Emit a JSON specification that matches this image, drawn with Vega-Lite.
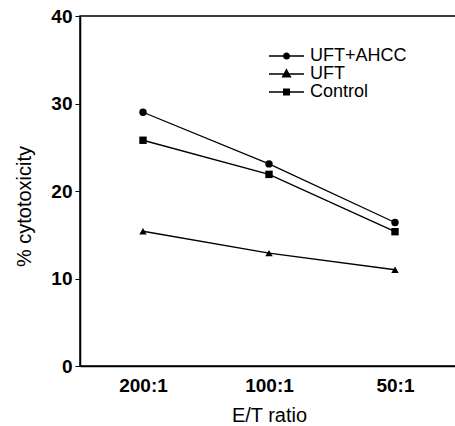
{
  "$schema": "https://vega.github.io/schema/vega-lite/v6.json",
  "width": 378,
  "height": 350,
  "autosize": "none",
  "padding": {"left": 80, "top": 16, "right": 0, "bottom": 60},
  "background": "white",
  "config": {
    "font": "Liberation Sans",
    "view": {"stroke": "black", "strokeWidth": 1.5},
    "axis": {"domainColor": "black", "domainWidth": 1.5, "tickColor": "black", "labelColor": "black", "titleColor": "black", "grid": false, "labelFont": "Liberation Sans", "titleFont": "Liberation Sans"}
  },
  "data": {
    "values": [
      {"ratio": "200:1", "series": "UFT+AHCC", "value": 29.0},
      {"ratio": "100:1", "series": "UFT+AHCC", "value": 23.1},
      {"ratio": "50:1", "series": "UFT+AHCC", "value": 16.4},
      {"ratio": "200:1", "series": "UFT", "value": 15.4},
      {"ratio": "100:1", "series": "UFT", "value": 12.9},
      {"ratio": "50:1", "series": "UFT", "value": 11.0},
      {"ratio": "200:1", "series": "Control", "value": 25.8},
      {"ratio": "100:1", "series": "Control", "value": 21.9},
      {"ratio": "50:1", "series": "Control", "value": 15.35}
    ]
  },
  "encoding": {
    "x": {"field": "ratio", "type": "ordinal", "sort": ["200:1", "100:1", "50:1"],
      "scale": {"type": "point", "padding": 0.5},
      "axis": {"title": "E/T ratio", "labelAngle": 0, "ticks": false, "labelPadding": 10, "titlePadding": 10, "labelFontWeight": "bold", "labelFontSize": 19, "titleFontSize": 20, "titleFontWeight": "normal"}},
    "y": {"field": "value", "type": "quantitative", "scale": {"domain": [0, 40]},
      "axis": {"title": "% cytotoxicity", "values": [0, 10, 20, 30, 40], "tickSize": 5, "labelPadding": 3, "titlePadding": 16, "titleY": 190, "labelFontWeight": "bold", "labelFontSize": 19, "titleFontSize": 20, "titleFontWeight": "normal"}}
  },
  "layer": [
    {"mark": {"type": "line", "color": "black", "strokeWidth": 1.3}, "encoding": {"detail": {"field": "series"}}},
    {"mark": {"type": "point", "filled": true, "color": "black", "opacity": 1, "size": 55},
      "encoding": {"shape": {"field": "series", "scale": {"domain": ["UFT+AHCC", "UFT", "Control"], "range": ["circle", "triangle-up", "square"]}, "legend": null}}},
    {"mark": {"type": "point", "filled": false, "color": "black", "opacity": 0, "size": 49, "strokeWidth": 1.4},
      "encoding": {"shape": {"field": "series", "scale": {"domain": ["UFT+AHCC", "UFT", "Control"],
        "range": [
          "M0,0H10M4.2,0A0.8,0.8,0,1,0,5.8,0A0.8,0.8,0,1,0,4.2,0ZM4.5,-0.4H5.5M4.5,0.4H5.5",
          "M0,0H10M5,-1.2L6.1,0.8L3.9,0.8ZM4.4,0.4H5.6M4.7,-0.4H5.3",
          "M0,0H10M4,-0.8H6M4,-0.4H6M4,0.4H6M4,0.8H6"
        ]},
        "legend": {"title": null, "orient": "none", "legendX": 180, "legendY": 31, "symbolSize": 49, "symbolStrokeWidth": 1.4, "symbolStrokeColor": "black", "symbolFillColor": "black", "symbolOpacity": 1, "labelFontSize": 18, "labelFont": "Liberation Sans", "labelColor": "black", "labelOffset": 32, "rowPadding": 0,
          "encode": {"symbols": {"update": {"opacity": {"value": 1}}}}}}}}
  ],
  "resolve": {"scale": {"shape": "independent"}, "legend": {"shape": "independent"}}
}
